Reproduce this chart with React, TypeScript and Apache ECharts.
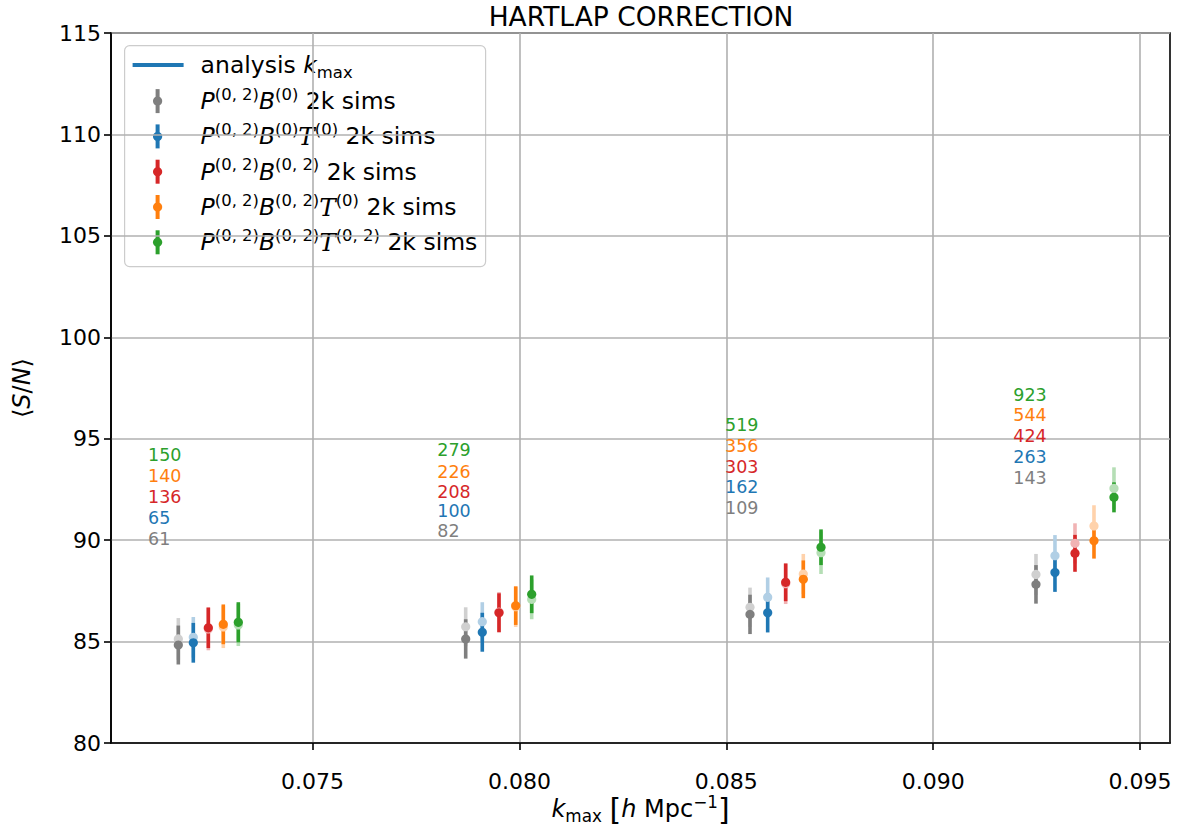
import React, { useEffect, useRef } from "react";
import * as echarts from "echarts";

// ---------- data ----------
const COLORS = ["#7f7f7f", "#1f77b4", "#d62728", "#ff7f0e", "#2ca02c"];
const FADED_COLORS = ["#d0d0d0", "#b1cfe5", "#f1b3b4", "#ffd2ab", "#b5deb5"];

const X_TICKS = [0.075, 0.08, 0.085, 0.09, 0.095];
const Y_TICKS = [80, 85, 90, 95, 100, 105, 110, 115];

// positions (kmax) of each series' points
const KMAX_GRAY = [0.071757, 0.078702, 0.085573, 0.092484];
const KMAX_BLUE = [0.072119, 0.079103, 0.086, 0.092943];
const KMAX_RED = [0.072482, 0.079507, 0.086435, 0.093427];
const KMAX_ORANGE = [0.072844, 0.079911, 0.086861, 0.093886];
const KMAX_GREEN = [0.073207, 0.080297, 0.087289, 0.094369];

// Hartlap-corrected (solid)
const SN_GRAY = [84.83, 85.13, 86.34, 87.82];
const ERR_GRAY = [0.96, 0.97, 0.97, 0.95];
const SN_BLUE = [84.94, 85.46, 86.42, 88.41];
const ERR_BLUE = [0.98, 0.96, 0.97, 0.96];
const SN_RED = [85.68, 86.42, 87.92, 89.35];
const ERR_RED = [1.0, 0.96, 0.93, 0.91];
const SN_ORANGE = [85.85, 86.77, 88.07, 89.97];
const ERR_ORANGE = [0.98, 0.95, 0.93, 0.88];
const SN_GREEN = [85.95, 87.33, 89.65, 92.11];
const ERR_GREEN = [0.99, 0.93, 0.88, 0.74];

// uncorrected (faded)
const SN_RAW_GRAY = [85.13, 85.73, 86.69, 88.31];
const ERR_RAW_GRAY = [1.03, 0.96, 0.97, 1.01];
const SN_RAW_BLUE = [85.21, 85.98, 87.18, 89.23];
const ERR_RAW_BLUE = [1.0, 0.96, 0.98, 1.02];
const SN_RAW_RED = [85.62, 86.45, 87.85, 89.84];
const ERR_RAW_RED = [1.05, 0.99, 1.0, 0.99];
const SN_RAW_ORANGE = [85.72, 86.72, 88.33, 90.7];
const ERR_RAW_ORANGE = [1.04, 1.0, 0.99, 1.02];
const SN_RAW_GREEN = [85.82, 87.08, 89.38, 92.55];
const ERR_RAW_GREEN = [1.04, 0.98, 1.05, 1.04];

// number annotations
const LABEL_X = [0.071025, 0.078016, 0.084969, 0.091936];
const LABELS_GRAY = ["61", "82", "109", "143"];
const LABELS_BLUE = ["65", "100", "162", "263"];
const LABELS_RED = ["136", "208", "303", "424"];
const LABELS_ORANGE = ["140", "226", "356", "544"];
const LABELS_GREEN = ["150", "279", "519", "923"];
const LABEL_Y_GRAY = [90.06, 90.47, 91.6, 93.08];
const LABEL_Y_BLUE = [91.09, 91.45, 92.6, 94.11];
const LABEL_Y_RED = [92.13, 92.39, 93.62, 95.13];
const LABEL_Y_ORANGE = [93.18, 93.37, 94.64, 96.17];
const LABEL_Y_GREEN = [94.2, 94.44, 95.68, 97.15];

const LEGEND_TEXTS = [
  "{i|P}{sup|(0, 2)}{i|B}{sup|(0)} 2k sims",
  "{i|P}{sup|(0, 2)}{i|B}{sup|(0)}{t|T}{sup|(0)} 2k sims",
  "{i|P}{sup|(0, 2)}{i|B}{sup|(0, 2)} 2k sims",
  "{i|P}{sup|(0, 2)}{i|B}{sup|(0, 2)}{t|T}{sup|(0)} 2k sims",
  "{i|P}{sup|(0, 2)}{i|B}{sup|(0, 2)}{t|T}{sup|(0, 2)} 2k sims",
];

const X_MIN = 0.07013;
const X_MAX = 0.095723;

const FONT = "DejaVu Sans";

const SERIES = [
  { kmax: KMAX_GRAY, sn: SN_GRAY, err: ERR_GRAY, raw: SN_RAW_GRAY, rawErr: ERR_RAW_GRAY, labels: LABELS_GRAY, ly: LABEL_Y_GRAY },
  { kmax: KMAX_BLUE, sn: SN_BLUE, err: ERR_BLUE, raw: SN_RAW_BLUE, rawErr: ERR_RAW_BLUE, labels: LABELS_BLUE, ly: LABEL_Y_BLUE },
  { kmax: KMAX_RED, sn: SN_RED, err: ERR_RED, raw: SN_RAW_RED, rawErr: ERR_RAW_RED, labels: LABELS_RED, ly: LABEL_Y_RED },
  { kmax: KMAX_ORANGE, sn: SN_ORANGE, err: ERR_ORANGE, raw: SN_RAW_ORANGE, rawErr: ERR_RAW_ORANGE, labels: LABELS_ORANGE, ly: LABEL_Y_ORANGE },
  { kmax: KMAX_GREEN, sn: SN_GREEN, err: ERR_GREEN, raw: SN_RAW_GREEN, rawErr: ERR_RAW_GREEN, labels: LABELS_GREEN, ly: LABEL_Y_GREEN },
];

function barData(faded: boolean) {
  const out: number[][] = [];
  SERIES.forEach((s, si) => {
    s.kmax.forEach((x, i) => {
      const m = faded ? s.raw[i] : s.sn[i];
      const e = faded ? s.rawErr[i] : s.err[i];
      out.push([x, m - e, m + e, m, si]);
    });
  });
  return out;
}

const labelTexts: string[] = [];
const labelData: number[][] = [];
SERIES.forEach((s, si) => {
  s.labels.forEach((t, i) => {
    labelTexts.push(t);
    labelData.push([LABEL_X[i], s.ly[i], si]);
  });
});

function makeRich(size: number) {
  const lh = Math.round(size * 1.28);
  return {
    i: { fontStyle: "italic", fontSize: size, fontFamily: FONT, lineHeight: lh },
    t: { fontStyle: "italic", fontSize: size * 1.05, fontFamily: "DejaVu Serif", lineHeight: lh },
    br: { fontSize: size * 1.25, fontFamily: FONT, lineHeight: lh },
    sup: { fontSize: size * 0.7, fontFamily: FONT, lineHeight: Math.round(size * 0.62), verticalAlign: "top" },
    sub: { fontSize: size * 0.7, fontFamily: FONT, lineHeight: Math.round(size * 0.82), verticalAlign: "bottom" },
  };
}

function makeBarSeries(faded: boolean) {
  return {
    type: "custom",
    silent: true,
    data: barData(faded),
    encode: { x: 0, y: [1, 2] },
    renderItem: (params: any, api: any) => {
      const x = api.value(0);
      const p1 = api.coord([x, api.value(1)]);
      const p2 = api.coord([x, api.value(2)]);
      const si = api.value(4);
      return {
        type: "line",
        shape: { x1: p1[0], y1: p1[1], x2: p2[0], y2: p2[1] },
        style: { stroke: faded ? FADED_COLORS[si] : COLORS[si], lineWidth: 3.6 },
      };
    },
  };
}

function makeMarkerSeries(faded: boolean) {
  return {
    type: "custom",
    silent: true,
    data: barData(faded),
    encode: { x: 0, y: 3 },
    renderItem: (params: any, api: any) => {
      const p = api.coord([api.value(0), api.value(3)]);
      const si = api.value(4);
      return {
        type: "circle",
        shape: { cx: p[0], cy: p[1], r: 4.6 },
        style: { fill: faded ? FADED_COLORS[si] : COLORS[si] },
      };
    },
  };
}

const LEGEND_FONT = 23.5;

function legendGraphic() {
  const rich = makeRich(LEGEND_FONT);
  const lh = Math.round(LEGEND_FONT * 1.28);
  const children: any[] = [
    {
      type: "rect",
      shape: { x: 0, y: 0, width: 361, height: 221, r: 5 },
      style: { fill: "rgba(255,255,255,0.8)", stroke: "#cccccc", lineWidth: 1.2 },
    },
    {
      type: "line",
      shape: { x1: 8, y1: 19.5, x2: 59, y2: 19.5 },
      style: { stroke: "#1f77b4", lineWidth: 4 },
    },
    {
      type: "text",
      x: 76,
      y: 19.5,
      style: {
        text: "analysis {i|k}{sub|max}",
        fontSize: LEGEND_FONT,
        fontFamily: FONT,
        fill: "#000",
        lineHeight: lh,
        verticalAlign: "middle",
        align: "left",
        rich,
      },
    },
  ];
  LEGEND_TEXTS.forEach((t, i) => {
    const cy = 55.5 + 35.3 * i;
    children.push({
      type: "line",
      shape: { x1: 33, y1: cy - 12, x2: 33, y2: cy + 12 },
      style: { stroke: COLORS[i], lineWidth: 4 },
    });
    children.push({
      type: "circle",
      shape: { cx: 33, cy, r: 4.6 },
      style: { fill: COLORS[i] },
    });
    children.push({
      type: "text",
      x: 76,
      y: cy,
      style: {
        text: t,
        fontSize: LEGEND_FONT,
        fontFamily: FONT,
        fill: "#000",
        lineHeight: lh,
        verticalAlign: "middle",
        align: "left",
        rich,
      },
    });
  });
  return { type: "group", left: 124, top: 45, z: 100, children };
}

export default function App() {
  const ref = useRef<HTMLDivElement>(null);
  useEffect(() => {
    if (!ref.current) return;
    const chart = echarts.init(ref.current, null, { renderer: "svg" });
    const axisRich = makeRich(24);
    const option: any = {
      animation: false,
      backgroundColor: "#ffffff",
      textStyle: { fontFamily: FONT },
      grid: {
        left: 111,
        right: 22,
        top: 33,
        bottom: 89,
        show: true,
        borderColor: "#000",
        borderWidth: 1.6,
      },
      xAxis: {
        type: "value",
        min: X_MIN,
        max: X_MAX,
        axisLine: { show: true, onZero: false, lineStyle: { color: "#000", width: 1.6 } },
        axisTick: {
          show: true,
          length: 7,
          lineStyle: { color: "#000", width: 1.6 },
          customValues: X_TICKS,
        },
        axisLabel: {
          customValues: X_TICKS,
          formatter: (v: number) => v.toFixed(3),
          fontSize: 22,
          fontFamily: FONT,
          color: "#000",
          margin: 27,
        },
        splitLine: { show: true, lineStyle: { color: "#b0b0b0", width: 1.6 } },
      },
      yAxis: {
        type: "value",
        min: Y_TICKS[0],
        max: Y_TICKS[Y_TICKS.length - 1],
        interval: 5,
        axisLine: { show: true, onZero: false, lineStyle: { color: "#000", width: 1.6 } },
        axisTick: { show: true, length: 7, lineStyle: { color: "#000", width: 1.6 } },
        axisLabel: { fontSize: 22, fontFamily: FONT, color: "#000", margin: 10 },
        splitLine: { show: true, lineStyle: { color: "#b0b0b0", width: 1.6 } },
      },
      series: [
        makeBarSeries(true),
        makeBarSeries(false),
        makeMarkerSeries(true),
        makeMarkerSeries(false),
        {
          type: "custom",
          silent: true,
          data: labelData,
          encode: { x: 0, y: 1 },
          renderItem: (params: any, api: any) => {
            const p = api.coord([api.value(0), api.value(1)]);
            const si = api.value(2);
            return {
              type: "text",
              x: p[0],
              y: p[1],
              style: {
                text: labelTexts[params.dataIndex],
                fill: COLORS[si],
                fontSize: 17.5,
                fontFamily: FONT,
                align: "left",
                verticalAlign: "middle",
              },
            };
          },
        },
      ],
      graphic: [
        {
          type: "text",
          x: 641,
          y: 16,
          style: {
            text: "HARTLAP CORRECTION",
            fontSize: 26.5,
            fontFamily: FONT,
            fill: "#000",
            align: "center",
            verticalAlign: "middle",
          },
        },
        {
          type: "text",
          x: 640.5,
          y: 809,
          style: {
            text: "{i|k}{sub|max} {br|[}{i|h} Mpc{sup|−1}{br|]}",
            fontSize: 24,
            fontFamily: FONT,
            fill: "#000",
            lineHeight: 31,
            align: "center",
            verticalAlign: "middle",
            rich: axisRich,
          },
        },
        {
          type: "text",
          x: 22,
          y: 388,
          rotation: Math.PI / 2,
          style: {
            text: "⟨{i|S}/{i|N}⟩",
            fontSize: 24,
            fontFamily: FONT,
            fill: "#000",
            lineHeight: 31,
            align: "center",
            verticalAlign: "middle",
            rich: axisRich,
          },
        },
        legendGraphic(),
      ],
    };
    chart.setOption(option);
    return () => chart.dispose();
  }, []);
  return <div ref={ref} style={{ width: 1192, height: 832, position: "absolute", left: 0, top: 0 }} />;
}
